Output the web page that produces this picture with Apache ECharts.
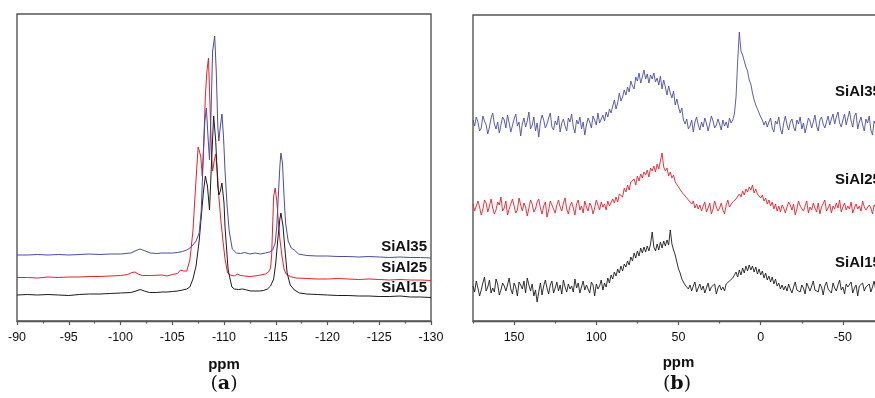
<!DOCTYPE html>
<html>
<head>
<meta charset="utf-8">
<script src="https://cdn.jsdelivr.net/npm/echarts@6/dist/echarts.min.js"></script>
<style>
html,body{margin:0;padding:0;background:#fff;overflow:hidden;}
#chart{width:900px;height:398px;}
</style>
</head>
<body>
<div id="chart"></div>
<script>
// ---------------- Panel (a) : 29Si spectra ----------------
const ticksA = [-90, -95, -100, -105, -110, -115, -120, -125, -130];

const ppmA15 = [-90,-91,-92,-93,-94,-95,-96,-97,-98,-99,-100,-101,-101.5,-101.9,-102.3,-102.8,-103.5,-104,-104.5,-105,-105.5,-106,-106.4,-106.7,-107,-107.3,-107.6,-107.86,-108,-108.2,-108.4,-108.6,-108.8,-109,-109.2,-109.4,-109.5,-109.65,-109.8,-110,-110.1,-110.4,-110.76,-111,-111.4,-111.8,-112.2,-112.6,-113,-113.4,-113.8,-114.2,-114.5,-114.8,-115,-115.2,-115.4,-115.5,-115.7,-115.9,-116.1,-116.4,-116.8,-117.3,-118,-119,-120,-121,-122,-123,-124,-125,-126,-127,-128,-129,-130];
const intA15 = [26,26.5,26,26.5,26,25.5,26.5,27,27,27.5,28,28.5,30,31.5,30,28.5,28.5,29,29,29.5,30,31,32,34,42,55,80,111,128,145,135,111,160,205,180,135,126,130,138,118,94,51,34,32,31.5,32,31,30,30,30,30.5,32,35,42,58,82,102,108,95,70,48,36,31,28,27,26.5,26,25.5,25.5,25,25,24.5,24.5,25,24,24,23.5];

const ppmA25 = [-90,-91,-92,-93,-94,-95,-96,-97,-98,-99,-100,-100.7,-101.1,-101.4,-101.7,-102.1,-103,-104,-104.5,-105,-105.5,-105.8,-106.1,-106.4,-106.7,-107,-107.2,-107.35,-107.5,-107.65,-107.75,-107.9,-108.05,-108.2,-108.35,-108.5,-108.65,-108.8,-108.9,-109.05,-109.2,-109.35,-109.5,-109.7,-109.9,-110.1,-110.35,-110.6,-111,-111.3,-111.6,-112,-112.5,-113,-113.5,-114,-114.3,-114.5,-114.6,-114.7,-114.8,-114.95,-115.1,-115.25,-115.4,-115.6,-115.8,-116,-116.4,-117,-118,-119,-120,-121,-122,-123,-124,-125,-126,-127,-128,-129,-130];
const intA25 = [43.5,43.5,43,44,43.5,44,44,44.5,44.5,45,45.5,46.5,48.5,49,47,45.5,45.5,46,45,46.5,47.5,51,50,50,61,90,125,150,174,175,165,145,180,225,250,263,215,165,150,160,167,150,125,100,80,62,48,46,45,47,45.5,45,44.5,45,46,47,49,53,65,95,125,133,120,100,82,65,52,47,44.5,43,42.5,42,42,42.5,42,41.5,42,41.5,41,41.5,41,41,40.5];

const ppmA35 = [-90,-91,-92,-93,-94,-95,-96,-97,-98,-99,-100,-101,-101.5,-101.9,-102.4,-102.9,-103.5,-104,-105,-105.5,-106,-106.4,-106.7,-107,-107.3,-107.6,-107.8,-108,-108.15,-108.3,-108.45,-108.6,-108.75,-108.9,-109.1,-109.25,-109.4,-109.5,-109.65,-109.8,-109.95,-110.1,-110.3,-110.5,-110.8,-111.2,-111.6,-112,-112.5,-113,-113.5,-114,-114.4,-114.7,-114.95,-115.1,-115.25,-115.4,-115.5,-115.65,-115.8,-115.95,-116.2,-116.5,-116.8,-117.2,-118,-119,-120,-121,-122,-123,-124,-125,-126,-127,-128,-129,-130];
const intA35 = [66,66,66.5,66,66.5,66,66.5,67,66.5,67,67,68,70.5,72,70,68,67.5,68,68,68.5,69.5,71,73,76,80,88,110,165,200,213,185,161,210,270,285,250,195,180,195,207,185,150,115,90,72,68,67.5,68.5,67,68,67,68,69,71,78,95,125,155,168,158,125,98,80,73,71,67,65.5,65,65,64.5,64.5,64,64.5,64,63.5,64,63.5,63.5,63];

// ---------------- Panel (b) : 27Al spectra ----------------
const ticksB = [150, 100, 50, 0, -50];
const minorTicksB = [175, 125, 75, 25, -25, -75];
// sampling grid: 175 ppm down to -75 ppm, 1 ppm apart
const ppmB = [];
for (let v = 175; v >= -75; v--) ppmB.push(v);

const intB35 = [
201,195,204,199,190,193,205,200,196,187,
194,203,208,197,192,199,188,196,204,201,
193,206,198,189,191,202,207,195,199,185,
197,203,194,200,209,192,196,204,190,198,
184,199,206,201,193,197,203,208,194,191,
200,196,205,189,198,202,195,190,203,199,
207,194,188,201,197,204,192,199,186,196,
203,199,193,205,201,196,208,198,202,206,
200,209,204,212,208,215,221,212,218,228,
220,224,231,226,234,229,240,235,232,244,
240,248,238,244,251,242,247,238,246,242,
248,239,243,236,245,232,241,234,226,235,
228,223,230,216,222,214,208,213,201,197,
202,192,195,201,189,199,204,196,191,199,
194,203,198,190,197,205,200,193,196,202,
197,191,201,195,199,193,203,198,201,207,
224,260,289,270,266,268,254,250,241,237,
228,221,216,212,208,204,201,196,200,194,
199,203,193,189,200,197,204,192,187,198,
205,196,191,199,202,194,190,201,197,204,
192,198,188,195,203,200,193,199,206,195,
190,201,204,197,193,199,205,196,202,207,
197,204,209,198,194,201,207,196,203,210,
200,194,205,208,192,199,204,196,190,202,
198,205,191,186,200,196,204,188,197,203,
199];

const intB25 = [
117,110,108,120,114,106,112,121,118,109,
115,122,113,107,111,119,116,124,110,113,
120,106,112,117,122,115,108,111,123,116,
110,118,114,105,113,121,117,109,112,119,
122,113,107,115,119,104,111,120,116,112,
108,116,121,114,110,118,123,112,107,115,
119,113,106,117,121,111,115,108,120,114,
110,118,115,107,113,121,116,111,119,114,
117,111,120,115,113,122,118,124,119,127,
128,124,133,129,136,131,139,137,142,136,
145,140,147,143,149,146,151,144,153,150,
155,149,157,152,160,168,154,150,153,145,
149,143,146,139,141,134,136,129,131,125,
127,121,123,117,120,113,117,112,116,110,
115,119,109,113,118,107,112,120,114,110,
113,118,111,107,116,121,114,112,119,118,
122,120,127,124,130,126,132,129,134,131,
136,128,132,127,129,123,126,120,123,117,
121,115,119,112,117,110,115,109,116,113,
108,114,119,116,111,117,106,112,120,115,
117,110,112,120,108,114,111,118,113,109,
118,107,114,116,121,110,113,117,108,115,
112,118,113,121,109,114,118,111,115,112,
119,108,113,117,112,115,110,120,114,111,
109,116,113,107,116,113,119,109,114,111,
115];

const intB15 = [
35,29,40,33,25,31,38,44,30,34,
41,28,33,29,42,37,26,31,38,35,
30,36,43,32,27,38,34,25,39,36,
32,40,28,43,36,30,37,25,31,19,
29,38,26,35,41,33,27,36,40,28,
33,39,30,36,27,41,34,29,37,32,
35,29,42,33,38,28,34,40,31,36,
32,28,39,36,25,37,32,35,41,31,
38,34,43,38,46,42,49,45,52,48,
55,50,57,54,60,56,64,60,68,63,
70,65,73,68,74,69,75,70,77,89,
74,70,77,71,79,73,80,75,81,76,
91,77,71,66,59,52,48,42,41,36,
38,32,36,30,35,39,29,33,37,31,
35,28,33,38,30,34,32,37,27,33,
36,31,34,30,37,35,40,38,43,41,
49,44,51,46,53,48,55,50,56,51,
55,49,54,47,52,46,50,43,48,41,
45,39,44,37,42,35,38,32,36,31,
35,30,37,32,28,34,39,31,33,29,
36,33,27,38,34,30,35,40,31,33,
29,37,34,26,35,39,32,34,28,38,
33,30,36,41,31,34,27,37,34,32,
39,28,33,36,25,35,33,38,30,34,
32,37,29,34,40,31,35,28,32,36,
33];

const colors = { SiAl15: '#1c1c1c', SiAl25: '#e8202a', SiAl35: '#4a4ca6' };

function pairs(xs, ys) { return xs.map((x, i) => [x, ys[i]]); }

const FONT = 'Arial, "Liberation Sans", Helvetica, sans-serif';
const AX = '#555555';

const chart = echarts.init(document.getElementById('chart'), null, { renderer: 'canvas' });

function label(text, x, y, align) {
  return { type: 'text', x: x, y: y, style: { text: text, font: 'bold 15px ' + FONT, fill: '#111', align: align, verticalAlign: 'middle', textAlign: align, textVerticalAlign: 'middle' } };
}
function panelTag(letter, x, y) {
  return { type: 'text', x: x, y: y, style: { text: '{p|(}{b|' + letter + '}{p|)}', align: 'center', verticalAlign: 'middle', textAlign: 'center', textVerticalAlign: 'middle',
    rich: { p: { font: '19px "DejaVu Serif", serif', fill: '#111' }, b: { font: 'bold 19px "DejaVu Serif", serif', fill: '#111' } } } };
}

const option = {
  animation: false,
  backgroundColor: '#ffffff',
  grid: [
    { left: 17, top: 14, width: 414, height: 307, show: true, borderColor: AX, borderWidth: 1.4, backgroundColor: 'transparent' },
    { left: 473, top: 15, width: 411, height: 306, show: true, borderColor: AX, borderWidth: 1.4, backgroundColor: 'transparent' }
  ],
  xAxis: [
    {
      gridIndex: 0, type: 'value', min: -130, max: -90, interval: 5, inverse: true,
      name: 'ppm', nameLocation: 'middle', nameGap: 36,
      nameTextStyle: { fontFamily: FONT, fontWeight: 'bold', fontSize: 15, color: '#111' },
      axisLine: { show: true, onZero: false, lineStyle: { color: AX, width: 1.4 } },
      axisTick: { show: true, length: 4, lineStyle: { color: AX, width: 1.2 } },
      minorTick: { show: true, splitNumber: 2, length: 2.5, lineStyle: { color: AX, width: 1.2 } },
      axisLabel: { fontFamily: FONT, fontSize: 12.5, color: '#111', margin: 10, customValues: ticksA },
      splitLine: { show: false }
    },
    {
      gridIndex: 1, type: 'value', min: -75, max: 175, inverse: true,
      name: 'ppm', nameLocation: 'middle', nameGap: 34,
      nameTextStyle: { fontFamily: FONT, fontWeight: 'bold', fontSize: 15, color: '#111' },
      axisLine: { show: true, onZero: false, lineStyle: { color: AX, width: 1.4 } },
      axisTick: { show: true, length: 4, customValues: ticksB, lineStyle: { color: AX, width: 1.2 } },
      axisLabel: { fontFamily: FONT, fontSize: 12.5, color: '#111', margin: 10, customValues: ticksB },
      splitLine: { show: false }
    },
    {
      gridIndex: 1, type: 'value', min: -75, max: 175, inverse: true, position: 'bottom',
      axisLine: { show: false },
      axisTick: { show: true, length: 2.5, customValues: minorTicksB, lineStyle: { color: AX, width: 1.2 } },
      axisLabel: { show: false },
      splitLine: { show: false }
    }
  ],
  yAxis: [
    { gridIndex: 0, type: 'value', min: 0, max: 307, show: false },
    { gridIndex: 1, type: 'value', min: 0, max: 306, show: false }
  ],
  series: [
    { name: 'SiAl15', type: 'line', xAxisIndex: 0, yAxisIndex: 0, data: pairs(ppmA15, intA15), showSymbol: false, lineStyle: { color: colors.SiAl15, width: 1 }, z: 3 },
    { name: 'SiAl25', type: 'line', xAxisIndex: 0, yAxisIndex: 0, data: pairs(ppmA25, intA25), showSymbol: false, lineStyle: { color: colors.SiAl25, width: 1 }, z: 2 },
    { name: 'SiAl35', type: 'line', xAxisIndex: 0, yAxisIndex: 0, data: pairs(ppmA35, intA35), showSymbol: false, lineStyle: { color: colors.SiAl35, width: 1 }, z: 4 },
    { name: 'SiAl15 (b)', type: 'line', xAxisIndex: 1, yAxisIndex: 1, data: pairs(ppmB, intB15), showSymbol: false, lineStyle: { color: colors.SiAl15, width: 0.9 } },
    { name: 'SiAl25 (b)', type: 'line', xAxisIndex: 1, yAxisIndex: 1, data: pairs(ppmB, intB25), showSymbol: false, lineStyle: { color: colors.SiAl25, width: 0.9 } },
    { name: 'SiAl35 (b)', type: 'line', xAxisIndex: 1, yAxisIndex: 1, data: pairs(ppmB, intB35), showSymbol: false, lineStyle: { color: colors.SiAl35, width: 0.9 } }
  ],
  graphic: [
    label('SiAl35', 427, 247, 'right'),
    label('SiAl25', 427, 268, 'right'),
    label('SiAl15', 427, 288, 'right'),
    label('SiAl35', 835, 92, 'left'),
    label('SiAl25', 835, 180, 'left'),
    label('SiAl15', 835, 263, 'left'),
    panelTag('a', 224, 384),
    panelTag('b', 677, 384)
  ]
};

chart.setOption(option);
</script>
</body>
</html>
